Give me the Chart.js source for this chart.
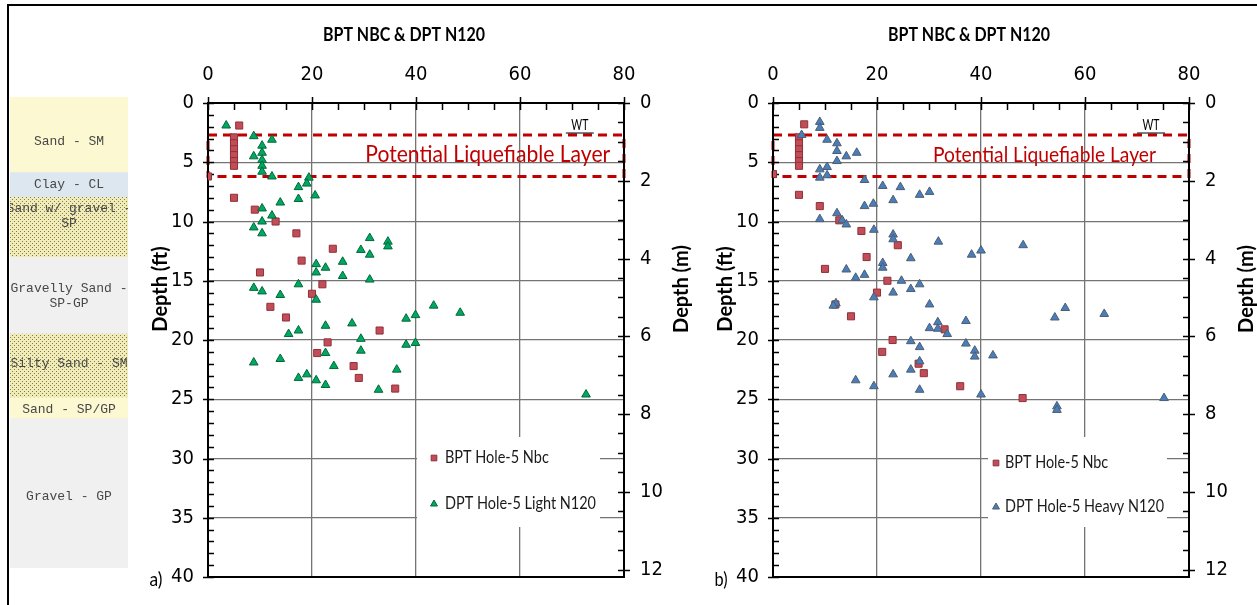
<!DOCTYPE html>
<html>
<head>
<meta charset="utf-8">
<script src="https://cdn.jsdelivr.net/npm/chart.js@4.4.1/dist/chart.umd.min.js"></script>
<style>
  html, body { margin: 0; padding: 0; background: #fff; width: 1257px; height: 605px; overflow: hidden; }
  #frame { position: absolute; left: 7px; top: 4px; width: 1250px; height: 601px; border-top: 2px solid #000; border-left: 2px solid #000; box-sizing: border-box; }
  canvas { position: absolute; }
  #soil { left: 10px; top: 97px; }
  #panelA { left: 140px; top: 0px; }
  #panelB { left: 705px; top: 0px; }
</style>
</head>
<body>
<div id="frame"></div>
<canvas id="soil" width="118" height="471"></canvas>
<canvas id="panelA" width="560" height="605"></canvas>
<canvas id="panelB" width="552" height="605"></canvas>
<script>
// ---- axis ticks ----
const nTicks = [0, 20, 40, 60, 80];
const depthTicksFt = [0, 5, 10, 15, 20, 25, 30, 35, 40];
const depthTicksM = [0, 2, 4, 6, 8, 10, 12];
const FT_TO_M = 0.3048;

// ---- soil log (depth in ft) ----
const soilNames = ['Sand - SM', 'Clay - CL', 'Sand w/ gravel -\nSP', 'Gravelly Sand -\nSP-GP', 'Silty Sand - SM', 'Sand - SP/GP', 'Gravel - GP'];
const soilTopFt = [0, 6.25, 8.3, 13.3, 19.7, 25.0, 26.75];
const soilBottomFt = [6.25, 8.3, 13.3, 19.7, 25.0, 26.75, 39.25];
const soilLabelShift = [7, 0, -11, 1, -2, 2, 4];   // px nudge of each label from its layer centre

// ---- liquefiable zone (ft) ----
const liqTopFt = 2.7;
const liqBottomFt = 6.2;

// ---- a) BPT Nbc and light DPT N120, Hole-5 ----
const bptA_N = [6, 5, 5, 5, 5, 5, 5, 0, 5, 9, 13, 17, 24, 18, 10, 22, 20, 12, 15, 33, 23, 21, 28, 29, 36];
const bptA_Depth = [1.9, 2.9, 3.4, 3.9, 4.4, 4.9, 5.3, 6.2, 8.0, 9.0, 10.0, 11.0, 12.3, 13.3, 14.3, 15.3, 16.1, 17.2, 18.1, 19.2, 20.2, 21.1, 22.2, 23.2, 24.1];
const dptLight_N = [3.5, 8.8, 12.3, 10.4, 10.4, 8.8, 10.4, 10.4, 10.4, 12.3, 19.4, 19.0, 17.4, 20.6, 17.4, 13.9, 10.4, 12.3, 10.4, 8.8,
  10.4, 31.1, 34.6, 34.6, 29.4, 31.1, 25.9, 20.8, 22.6, 20.8, 25.9, 31.1, 17.4, 8.8, 10.4, 13.9, 20.8, 43.4, 48.5, 39.9,
  38.1, 27.7, 22.6, 17.4, 15.5, 29.4, 39.9, 38.1, 29.4, 22.6, 13.9, 8.8, 24.2, 36.3, 19.0, 17.4, 20.8, 22.6, 32.8, 72.7];
const dptLight_Depth = [1.9, 2.8, 3.1, 3.6, 4.2, 4.5, 4.8, 5.3, 5.8, 6.2, 6.3, 6.8, 7.1, 7.8, 8.1, 8.4, 8.9, 9.5, 10.0, 10.5,
  11.0, 11.4, 11.7, 12.1, 12.4, 12.8, 13.4, 13.6, 13.9, 14.3, 14.6, 14.9, 15.3, 15.6, 15.9, 16.2, 16.6, 17.1, 17.7, 17.9,
  18.2, 18.6, 18.8, 19.2, 19.5, 19.9, 20.25, 20.4, 20.9, 21.1, 21.6, 21.9, 22.2, 22.5, 22.9, 23.2, 23.4, 23.8, 24.2, 24.6];

// ---- b) BPT Nbc and heavy DPT N120, Hole-5 ----
const bptB_N = [6, 5, 5, 5, 5, 5, 5, 0, 5, 9, 12.75, 17, 24, 18, 10, 22, 20, 12, 15, 33, 23, 21, 28, 29, 36, 48];
const bptB_Depth = [1.8, 2.9, 3.4, 3.9, 4.4, 4.9, 5.3, 6.0, 7.75, 8.7, 9.9, 10.8, 12.0, 13.0, 14.0, 15.0, 16.0, 17.0, 18.0, 19.1, 20.0, 21.0, 22.0, 22.8, 23.9, 24.9];
const dptHeavy_N = [9, 9, 5.5, 10.4, 12.3, 12.3, 16.1, 14.1, 12.3, 10.4, 9, 10.4, 9, 17.6, 21.1, 24.5, 30.1, 28.2, 23.1, 19.3,
  17.6, 12.3, 9, 13.3, 14.1, 19.4, 23.1, 23.1, 31.8, 48.1, 40, 38.2, 26.5, 21.1, 21.1, 14.1, 17.6, 15.9, 24.7, 28.2,
  26.5, 23.1, 19.4, 12.1, 11.6, 30.1, 56.2, 63.7, 54.2, 37.1, 31.7, 30.1, 31.7, 33.5, 26.5, 37.1, 28.2, 38.8, 42.3, 38.8,
  28.2, 26.5, 23.1, 15.9, 19.4, 28.2, 40, 75.2, 54.6, 54.6];
const dptHeavy_Depth = [1.6, 2.1, 2.7, 3.1, 3.4, 4.05, 4.2, 4.5, 4.9, 5.4, 5.6, 6.1, 6.3, 6.5, 7.0, 7.1, 7.5, 7.75, 8.2, 8.5,
  8.7, 9.3, 9.8, 9.9, 10.25, 10.7, 11.1, 11.5, 11.7, 12.0, 12.45, 12.8, 13.1, 13.5, 13.9, 14.05, 14.5, 14.75, 15.0, 15.3,
  15.7, 16.0, 16.4, 16.9, 17.1, 17.0, 17.3, 17.8, 18.1, 18.4, 18.5, 19.0, 19.05, 19.5, 20.1, 20.3, 20.6, 20.9, 21.3, 21.4,
  21.8, 22.5, 22.9, 23.4, 23.9, 24.2, 24.6, 24.9, 25.6, 25.9];

const TICK_FONT = '"DejaVu Sans Condensed", "DejaVu Sans", sans-serif';
const FONT = 'Lato, "Open Sans", sans-serif';
const MONO = '"Liberation Mono", "DejaVu Sans Mono", monospace';
const RED = '#c00000';

function pts(xs, ys) { return xs.map((v, i) => ({ x: v, y: ys[i] })); }

// draws text squeezed (or not) horizontally to a given width
function fitText(ctx, text, x, y, targetW, align) {
  const w = ctx.measureText(text).width;
  const s = targetW ? targetW / w : 1;
  ctx.save();
  ctx.translate(x, y);
  ctx.scale(s, 1);
  ctx.textAlign = align || 'center';
  ctx.fillText(text, 0, 0);
  ctx.restore();
  return s;
}

function dotPattern(bg, dot) {
  const c = document.createElement('canvas');
  c.width = 4; c.height = 4;
  const g = c.getContext('2d');
  g.fillStyle = bg; g.fillRect(0, 0, 4, 4);
  g.fillStyle = dot;
  g.fillRect(0, 0, 1, 1); g.fillRect(2, 2, 1, 1);
  return g.createPattern(c, 'repeat');
}

// ---- soil column ----
(function () {
  const sandFill = '#fcf8d2';
  const dotted = dotPattern('#f1ecb6', '#7f7a5c');
  const fills = [sandFill, '#dde7f0', dotted, '#f0f0f0', dotted, sandFill, '#f0f0f0'];
  const labelPlugin = {
    id: 'soilLabels',
    afterDatasetsDraw(chart) {
      const { ctx, scales: { y }, chartArea: a } = chart;
      ctx.save();
      ctx.fillStyle = '#474747';
      ctx.font = '13px ' + MONO;
      ctx.textAlign = 'center';
      ctx.textBaseline = 'middle';
      const cx = (a.left + a.right) / 2;
      soilNames.forEach((name, i) => {
        const lines = name.split('\n');
        const mid = (y.getPixelForValue(soilTopFt[i]) + y.getPixelForValue(soilBottomFt[i])) / 2 + soilLabelShift[i];
        const lh = 15;
        lines.forEach((ln, k) => ctx.fillText(ln, cx, mid + (k - (lines.length - 1) / 2) * lh));
      });
      ctx.restore();
    }
  };
  new Chart(document.getElementById('soil'), {
    type: 'bar',
    data: {
      labels: ['log'],
      datasets: soilNames.map((n, i) => ({
        label: n,
        data: [[soilTopFt[i], soilBottomFt[i]]],
        backgroundColor: fills[i],
        borderWidth: 0,
        grouped: false,
        barPercentage: 1,
        categoryPercentage: 1
      }))
    },
    options: {
      responsive: false, animation: false, events: [],
      layout: { padding: 0 },
      plugins: { legend: { display: false }, tooltip: { enabled: false } },
      scales: {
        x: { display: false },
        y: { display: false, reverse: true, min: 0, max: soilBottomFt[soilBottomFt.length - 1] }
      }
    },
    plugins: [labelPlugin]
  });
})();

// ---- depth panels ----
function drawMarker(ctx, style, x, y, fill, stroke, r) {
  ctx.beginPath();
  if (style === 'rect') {
    const s = Math.SQRT1_2 * r;
    ctx.rect(x - s, y - s, 2 * s, 2 * s);
  } else {
    ctx.moveTo(x, y - r);
    ctx.lineTo(x + 0.866 * r, y + 0.5 * r);
    ctx.lineTo(x - 0.866 * r, y + 0.5 * r);
    ctx.closePath();
  }
  ctx.fillStyle = fill; ctx.fill();
  ctx.strokeStyle = stroke; ctx.lineWidth = 1; ctx.stroke();
}

function makePanel(id, cfg) {
  const decor = {
    id: 'decor',
    beforeDatasetsDraw(chart) {
      const { ctx, chartArea: a, scales: { x, y, yM } } = chart;
      ctx.save();
      // legend background
      ctx.fillStyle = '#fff';
      ctx.fillRect(a.left + cfg.legend.left, a.top + cfg.legend.top, cfg.legend.width, cfg.legend.height);

      // liquefiable layer outline
      const yt = y.getPixelForValue(liqTopFt), yb = y.getPixelForValue(liqBottomFt);
      ctx.strokeStyle = RED; ctx.lineWidth = 3; ctx.setLineDash([9, 6]);
      ctx.strokeRect(a.left, yt, a.right - a.left, yb - yt);
      ctx.setLineDash([]);
      ctx.fillStyle = RED;
      ctx.font = cfg.liqFont + 'px ' + FONT;
      ctx.textBaseline = 'middle';
      fitText(ctx, 'Potential Liquefiable Layer', x.getPixelForValue(cfg.liqLabelN), y.getPixelForValue(cfg.liqLabelDepth), cfg.liqWidth);

      // water table
      ctx.fillStyle = '#000';
      ctx.font = '15px ' + FONT;
      const wx = x.getPixelForValue(cfg.wtN), wy = y.getPixelForValue(cfg.wtDepth);
      fitText(ctx, 'WT', wx, wy, 17);
      ctx.strokeStyle = '#000'; ctx.lineWidth = 1;
      ctx.beginPath(); ctx.moveTo(wx - 14, wy + 7.5); ctx.lineTo(wx + 14, wy + 7.5); ctx.stroke();

      // plot frame
      ctx.strokeStyle = '#000'; ctx.lineWidth = 2;
      ctx.strokeRect(a.left, a.top, a.right - a.left, a.bottom - a.top);

      // tick marks
      ctx.lineWidth = 1.5;
      ctx.beginPath();
      for (let v = 0; v <= 80; v += 5) {
        const px = Math.round(x.getPixelForValue(v)) + 0.5;
        const major = nTicks.includes(v);
        ctx.moveTo(px, major ? a.top - 6 : a.top); ctx.lineTo(px, a.top + 7);
      }
      for (let v = 0; v <= 40; v += 1) {
        const py = Math.round(y.getPixelForValue(v)) + 0.5;
        const major = depthTicksFt.includes(v);
        ctx.moveTo(major ? a.left - 5 : a.left, py); ctx.lineTo(a.left + 6, py);
      }
      for (let v = 0; v <= 12; v += 0.5) {
        const py = Math.round(yM.getPixelForValue(v)) + 0.5;
        const major = depthTicksM.includes(v);
        ctx.moveTo(a.right - 6, py); ctx.lineTo(major ? a.right + 6 : a.right, py);
      }
      ctx.stroke();

      // legend entries
      const lg = cfg.legend;
      ctx.font = '17px ' + FONT;
      ctx.textBaseline = 'middle';
      const ds = chart.data.datasets;
      const squeeze = lg.textWidth / ctx.measureText(ds[1].label).width;
      ds.forEach((d, i) => {
        const ly = a.top + lg.rows[i];
        drawMarker(ctx, d.pointStyle, a.left + lg.markerX, ly, d.backgroundColor, d.borderColor, 4);
        ctx.fillStyle = '#1a1a1a';
        fitText(ctx, d.label, a.left + lg.textX, ly, ctx.measureText(d.label).width * squeeze, 'left');
      });
      ctx.restore();
    },
    afterDraw(chart) {
      const { ctx, chartArea: a } = chart;
      ctx.save();
      ctx.fillStyle = '#000';
      ctx.textBaseline = 'middle';
      ctx.font = 'bold 19px ' + FONT;
      fitText(ctx, 'BPT NBC & DPT N120', (a.left + a.right) / 2 - 12, 35, 162);
      ctx.font = 'bold 20px ' + FONT;
      ctx.textAlign = 'center';
      ctx.save();
      ctx.translate(a.left - 47, 289); ctx.rotate(-Math.PI / 2);
      ctx.fillText('Depth (ft)', 0, 0);
      ctx.restore();
      ctx.save();
      ctx.translate(a.right + 58, 289); ctx.rotate(-Math.PI / 2);
      ctx.fillText('Depth (m)', 0, 0);
      ctx.restore();
      ctx.font = '19px ' + FONT;
      fitText(ctx, cfg.tag, a.left - 52, 580, 13);
      ctx.restore();
    }
  };

  const tickFont = { family: TICK_FONT, size: 20 };
  new Chart(document.getElementById(id), {
    type: 'scatter',
    data: {
      datasets: [
        {
          label: 'BPT Hole-5 Nbc',
          data: pts(cfg.bptN, cfg.bptDepth),
          pointStyle: 'rect', pointRadius: 5,
          backgroundColor: '#c24d58', borderColor: '#8e3138', borderWidth: 1,
          xAxisID: 'x', yAxisID: 'y', order: 2
        },
        {
          label: cfg.dptLabel,
          data: pts(cfg.dptN, cfg.dptDepth),
          pointStyle: 'triangle', pointRadius: 5,
          backgroundColor: cfg.dptFill, borderColor: cfg.dptStroke, borderWidth: 1,
          xAxisID: 'x', yAxisID: 'y', order: 1
        }
      ]
    },
    options: {
      responsive: false, animation: false, events: [],
      layout: { padding: { top: 0, left: 0, right: 0, bottom: 22 } },
      plugins: { legend: { display: false }, tooltip: { enabled: false } },
      scales: {
        x: {
          type: 'linear', position: 'top', min: 0, max: 80,
          afterBuildTicks: s => { s.ticks = nTicks.map(v => ({ value: v })); },
          afterFit: s => { s.height = 103; },
          ticks: { padding: 16, color: '#000', font: tickFont },
          grid: { color: '#747474', lineWidth: 1.3, drawTicks: false },
          border: { display: false }
        },
        y: {
          type: 'linear', position: 'left', reverse: true, min: 0, max: 40,
          afterBuildTicks: s => { s.ticks = depthTicksFt.map(v => ({ value: v })); },
          afterFit: s => { s.width = 68; },
          ticks: { padding: 14, color: '#000', font: tickFont },
          grid: { color: '#747474', lineWidth: 1.3, drawTicks: false },
          border: { display: false }
        },
        yM: {
          type: 'linear', position: 'right', reverse: true, min: 0, max: 40 * FT_TO_M,
          afterBuildTicks: s => { s.ticks = depthTicksM.map(v => ({ value: v })); },
          afterFit: s => { s.width = cfg.rightWidth; },
          ticks: { padding: 16, color: '#000', font: tickFont },
          grid: { drawOnChartArea: false, drawTicks: false },
          border: { display: false }
        }
      }
    },
    plugins: [decor]
  });
}

makePanel('panelA', {
  tag: 'a)',
  bptN: bptA_N, bptDepth: bptA_Depth,
  dptN: dptLight_N, dptDepth: dptLight_Depth,
  dptLabel: 'DPT Hole-5 Light N120',
  dptFill: '#00a862', dptStroke: '#00683a',
  rightWidth: 76,
  liqLabelN: 53.8, liqLabelDepth: 4.35, liqFont: 23, liqWidth: 245,
  wtN: 71.5, wtDepth: 1.9,
  legend: { left: 209, top: 334, width: 183, height: 90, markerX: 226, textX: 237, rows: [355, 401], textWidth: 151 }
});

makePanel('panelB', {
  tag: 'b)',
  bptN: bptB_N, bptDepth: bptB_Depth,
  dptN: dptHeavy_N, dptDepth: dptHeavy_Depth,
  dptLabel: 'DPT Hole-5 Heavy N120',
  dptFill: '#4a7ebb', dptStroke: '#4d5d70',
  rightWidth: 68,
  liqLabelN: 52.2, liqLabelDepth: 4.35, liqFont: 22, liqWidth: 223,
  wtN: 72.7, wtDepth: 1.9,
  legend: { left: 215, top: 334, width: 179, height: 90, markerX: 223, textX: 232, rows: [360, 404], textWidth: 159 }
});
</script>
</body>
</html>
